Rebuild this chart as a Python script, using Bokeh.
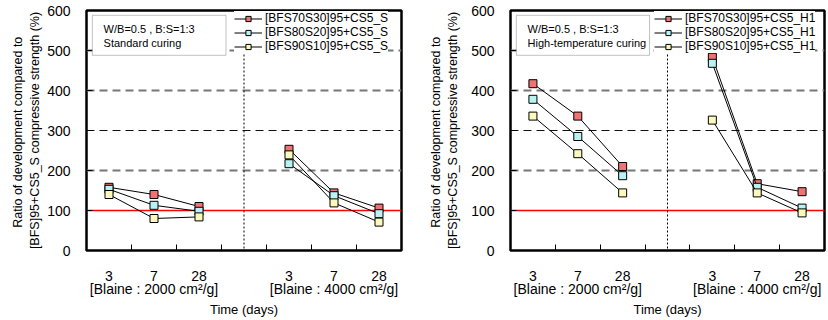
from bokeh.plotting import figure
from bokeh.models import (Range1d, FixedTicker, Span, Label, BoxAnnotation, Legend,
                          LegendItem, ColumnDataSource)
from bokeh.layouts import row
from bokeh.embed import file_html
from bokeh.resources import INLINE

# ---------------- data ----------------
days = ["3", "7", "28"]
blaine = ["[Blaine : 2000 cm²/g]", "[Blaine : 4000 cm²/g]"]
series = ["[BFS70S30]95+CS5", "[BFS80S20]95+CS5", "[BFS90S10]95+CS5"]

std_2000_70 = [158, 140, 110]
std_2000_80 = [153, 113, 98]
std_2000_90 = [140, 80, 84]
std_4000_70 = [253, 144, 106]
std_4000_80 = [217, 137, 92]
std_4000_90 = [239, 119, 71]

ht_2000_70 = [417, 336, 210]
ht_2000_80 = [378, 285, 187]
ht_2000_90 = [336, 242, 144]
ht_4000_70 = [483, 167, 147]
ht_4000_80 = [468, 158, 106]
ht_4000_90 = [326, 144, 94]

y_ticks = [0, 100, 200, 300, 400, 500, 600]
grid_vals = [200, 300, 400, 500]
ref_value = 100

FONT = "Liberation Sans"
fills = ["#f07272", "#b8f2f2", "#fdf8bc"]
grid_style = {200: ("#777777", 2), 300: ("#111111", 1.2), 400: ("#777777", 2), 500: ("#777777", 2)}


def make_panel(title_line2, suffix, d2000, d4000, bl, fw, br, legend_marker,
               major_standoff, legend_x, label_standoff):
    n = len(days)
    width = bl + fw + br
    p = figure(width=width, height=320, output_backend="svg", toolbar_location=None,
               x_range=Range1d(0, 2 * n + 1), y_range=Range1d(0, 600),
               min_border_left=bl, min_border_right=br, min_border_top=10,
               min_border_bottom=69)
    p.background_fill_color = "white"
    p.border_fill_color = "white"
    p.outline_line_color = "black"
    p.outline_line_width = 2.5

    # grids
    p.xgrid.visible = False
    p.ygrid.visible = False
    for gv in grid_vals:
        col, lw = grid_style[gv]
        p.add_layout(Span(location=gv, dimension="width", line_color=col, line_width=lw,
                          line_dash="8 5", level="underlay"))

    # x axis
    xs_all = [i + 0.5 for i in range(n)] + [n + 1 + i + 0.5 for i in range(n)]
    overrides = {}
    for i, x in enumerate(xs_all):
        txt = days[i % n]
        if i % n == n // 2:
            txt = txt + "\n" + blaine[i // n]
        overrides[x] = txt
    p.xaxis.ticker = FixedTicker(ticks=xs_all, minor_ticks=list(range(1, 2 * n + 1)))
    p.xaxis.major_label_overrides = overrides
    p.xaxis.major_tick_in = 0
    p.xaxis.major_tick_out = 0
    p.xaxis.minor_tick_in = 6
    p.xaxis.minor_tick_out = 0
    p.xaxis.minor_tick_line_color = "black"
    p.xaxis.axis_line_color = None
    p.xaxis.major_label_text_font = FONT
    p.xaxis.major_label_text_font_size = "14px"
    p.xaxis.major_label_text_line_height = 0.85
    p.xaxis.major_label_text_color = "black"
    p.xaxis.major_label_standoff = 17
    p.xaxis.axis_label = "Time (days)"
    p.xaxis.axis_label_text_font = FONT
    p.xaxis.axis_label_text_font_size = "13px"
    p.xaxis.axis_label_text_font_style = "normal"
    p.xaxis.axis_label_text_color = "black"
    p.xaxis.axis_label_standoff = 2

    # y axis
    p.yaxis.ticker = FixedTicker(ticks=y_ticks)
    p.yaxis.major_tick_in = 6
    p.yaxis.major_tick_out = 0
    p.yaxis.minor_tick_line_color = None
    p.yaxis.axis_line_color = None
    p.yaxis.major_label_text_font = FONT
    p.yaxis.major_label_text_font_size = "14px"
    p.yaxis.major_label_text_color = "black"
    p.yaxis.major_label_standoff = major_standoff
    p.yaxis.axis_label = "Ratio of  development compared to\n[BFS]95+CS5_S compressive strength (%)"
    p.yaxis.axis_label_text_font = FONT
    p.yaxis.axis_label_text_font_size = "12.5px"
    p.yaxis.axis_label_text_font_style = "normal"
    p.yaxis.axis_label_text_color = "black"
    p.yaxis.axis_label_standoff = label_standoff

    # reference and divider lines
    p.add_layout(Span(location=ref_value, dimension="width", line_color="#ff0000",
                      line_width=1.6, level="underlay"))
    p.add_layout(Span(location=n + 0.5, dimension="height", line_color="black",
                      line_width=1, line_dash="2 2", level="underlay"))

    # series
    items = []
    x1 = [i + 0.5 for i in range(n)]
    x2 = [n + 1 + i + 0.5 for i in range(n)]
    for k in range(3):
        rends = []
        for xs, ys in ((x1, d2000[k]), (x2, d4000[k])):
            src = ColumnDataSource(dict(x=xs, y=ys))
            r1 = p.line("x", "y", source=src, line_color="black", line_width=1)
            r2 = p.scatter("x", "y", source=src, marker="square", size=8,
                           fill_color=fills[k], line_color="black", line_width=1)
            rends.append((r1, r2))
        items.append(LegendItem(label=series[k] + suffix, renderers=list(rends[0])))

    legend = Legend(items=items, location=(legend_x, 197))
    legend.label_text_font = FONT
    legend.label_text_font_size = "12px"
    legend.label_text_color = "black"
    legend.glyph_width = 28
    legend.glyph_height = 13
    legend.label_height = 13
    legend.label_standoff = 3
    legend.spacing = 0
    legend.padding = 2
    legend.margin = 0
    legend.border_line_color = None
    legend.background_fill_color = "white"
    legend.background_fill_alpha = 1
    p.add_layout(legend)

    # info box
    p.add_layout(BoxAnnotation(left=0.13, right=3.1, top=588, bottom=488,
                               fill_color="white", fill_alpha=1,
                               line_color="#333333", line_width=1))
    p.add_layout(Label(x=0.38, y=555, text="W/B=0.5 , B:S=1:3", text_font=FONT,
                       text_font_size="11px", text_baseline="middle", text_color="black"))
    p.add_layout(Label(x=0.38, y=518, text=title_line2, text_font=FONT,
                       text_font_size="11px", text_baseline="middle", text_color="black"))
    return p


p1 = make_panel("Standard curing", "_S",
                [std_2000_70, std_2000_80, std_2000_90],
                [std_4000_70, std_4000_80, std_4000_90], 86, 315, 13, 8, 16, 148, 2)
p2 = make_panel("High-temperature curing", "_H1",
                [ht_2000_70, ht_2000_80, ht_2000_90],
                [ht_4000_70, ht_4000_80, ht_4000_90], 96, 314, 4, 6, 16, 144, 8)

layout = row(p1, p2)
open("out.html", "w").write(file_html(layout, INLINE))
